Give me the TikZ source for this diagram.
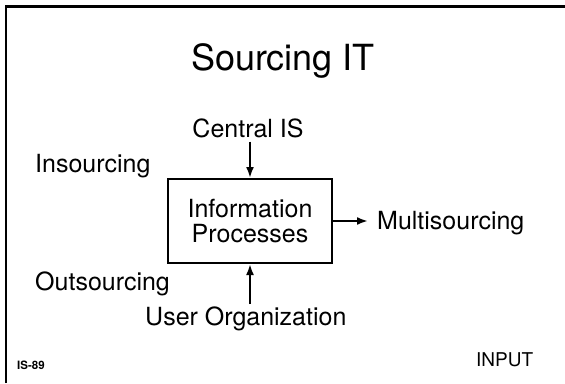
\documentclass[tikz,border=0pt]{standalone}
\usepackage{fontspec}
\setmainfont{TeX Gyre Heros}
\usetikzlibrary{arrows.meta}
\begin{document}
\begin{tikzpicture}[x=1pt,y=-1pt,
  lbl/.style={inner sep=0pt,font=\fontsize{25}{25}\selectfont},
  arr/.style={line width=2.3pt,-{Latex[length=11pt,width=8pt]}},
  procbox/.style={draw,line width=2pt,minimum width=164pt,minimum height=84pt,inner sep=0pt,align=center,font=\fontsize{25}{25}\selectfont}]
\useasboundingbox (0,0) rectangle (565,383);
\draw[line width=2.5pt] (5.8,383) -- (5.8,6.5) -- (565,6.5);
\node[inner sep=0pt,anchor=base,font=\fontsize{36}{36}\selectfont] (title) at (283,70) {Sourcing IT};
\node[lbl,anchor=base] (central) at (248,137) {Central IS};
\node[lbl,anchor=base west] (insrc) at (35,172) {Insourcing};
\node[procbox] (box) at (250,221) {Information\\Processes};
\node[lbl,anchor=base west] (multi) at (377,229) {Multisourcing};
\node[lbl,anchor=base west] (outsrc) at (35,290) {Outsourcing};
\node[lbl,anchor=base west] (user) at (145,325) {User Organization};
\node[inner sep=0pt,anchor=base west,font=\fontsize{19}{19}\selectfont] (input) at (476,366) {INPUT};
\node[inner sep=0pt,anchor=base west,font=\bfseries\fontsize{11.5}{11.5}\selectfont] (code) at (17,369) {IS-89};
\draw[arr,shorten <=4pt] (box.north |- central.south) -- (box.north);
\draw[arr,shorten <=2pt] (box.south |- user.north) -- (box.south);
\draw[arr,shorten >=9pt] (box.east) -- (box.east -| multi.west);
\end{tikzpicture}
\end{document}
